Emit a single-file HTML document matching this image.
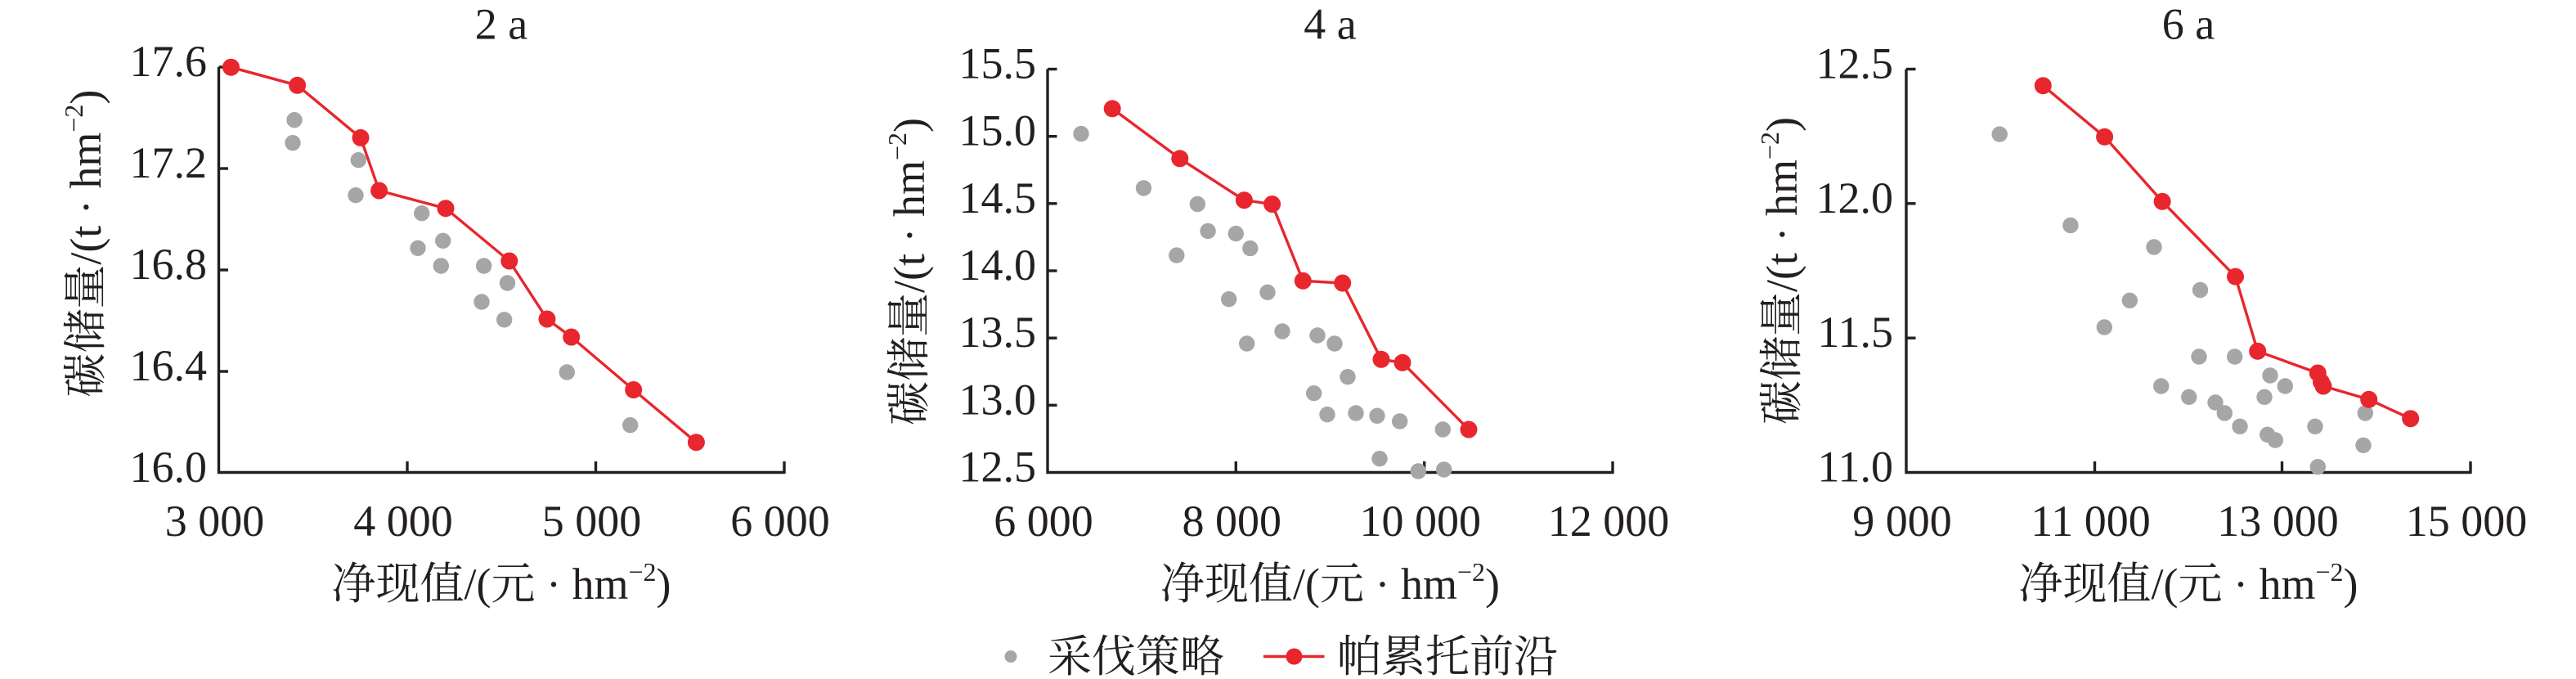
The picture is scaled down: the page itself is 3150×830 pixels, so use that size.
<!DOCTYPE html>
<html>
<head>
<meta charset="utf-8">
<style>
  html, body { margin: 0; padding: 0; background: #ffffff; }
  body { width: 3150px; height: 830px; overflow: hidden; }
  svg { display: block; }
  text { font-family: "Liberation Serif", "Noto Serif CJK SC", serif; fill: #231f20; }
</style>
</head>
<body>
<svg xmlns="http://www.w3.org/2000/svg" width="3150" height="830" viewBox="0 0 3150 830">
  <rect x="0" y="0" width="3150" height="830" fill="#ffffff"/>

  <!-- ================= Panel 1: 2 a ================= -->
  <g>
    <text x="613" y="47.5" font-size="54" text-anchor="middle">2 a</text>
    <path d="M267.5 82 L267.5 577.5 L959 577.5" fill="none" stroke="#231f20" stroke-width="3.4" stroke-linejoin="miter"/>
    <g stroke="#231f20" stroke-width="3.4">
      <line x1="267.5" y1="82" x2="279" y2="82"/>
      <line x1="267.5" y1="206" x2="279" y2="206"/>
      <line x1="267.5" y1="330" x2="279" y2="330"/>
      <line x1="267.5" y1="454" x2="279" y2="454"/>
      <line x1="498" y1="577.5" x2="498" y2="564"/>
      <line x1="728.5" y1="577.5" x2="728.5" y2="564"/>
      <line x1="959" y1="579" x2="959" y2="564"/>
    </g>
    <g font-size="54" text-anchor="end">
      <text x="253" y="93">17.6</text>
      <text x="253" y="217">17.2</text>
      <text x="253" y="341">16.8</text>
      <text x="253" y="465">16.4</text>
      <text x="253" y="589">16.0</text>
    </g>
    <g font-size="54" text-anchor="middle">
      <text x="262.5" y="655">3 000</text>
      <text x="493" y="655">4 000</text>
      <text x="723.5" y="655">5 000</text>
      <text x="954" y="655">6 000</text>
    </g>
    <text x="613" y="732" font-size="54" text-anchor="middle">净现值/(元 · hm<tspan font-size="32" dy="-22">−2</tspan><tspan dy="22">)</tspan></text>
    <text transform="translate(123,297.6) rotate(-90)" font-size="54" text-anchor="middle">碳储量/(t · hm<tspan font-size="32" dy="-22">−2</tspan><tspan dy="22">)</tspan></text>
    <g fill="#a6a6a6">
      <circle cx="360" cy="146.7" r="9.7"/>
      <circle cx="358" cy="174.7" r="9.7"/>
      <circle cx="438.3" cy="195.7" r="9.7"/>
      <circle cx="435" cy="238.7" r="9.7"/>
      <circle cx="515.7" cy="260.7" r="9.7"/>
      <circle cx="511" cy="303.3" r="9.7"/>
      <circle cx="541.7" cy="294.3" r="9.7"/>
      <circle cx="539.3" cy="325" r="9.7"/>
      <circle cx="591.7" cy="325" r="9.7"/>
      <circle cx="589" cy="369" r="9.7"/>
      <circle cx="620.5" cy="346" r="9.7"/>
      <circle cx="616.7" cy="390.8" r="9.7"/>
      <circle cx="693.3" cy="455" r="9.7"/>
      <circle cx="770.7" cy="519.7" r="9.7"/>
    </g>
    <polyline points="282.5,82.2 363.6,104.3 441,168.4 463.6,233 545,254.7 622.8,319 669,390 698.7,412 774.7,476.5 851.4,540.7" fill="none" stroke="#e8262d" stroke-width="3.4" stroke-linejoin="round"/>
    <g fill="#e8262d">
      <circle cx="282.5" cy="82.2" r="10.5"/>
      <circle cx="363.6" cy="104.3" r="10.5"/>
      <circle cx="441" cy="168.4" r="10.5"/>
      <circle cx="463.6" cy="233" r="10.5"/>
      <circle cx="545" cy="254.7" r="10.5"/>
      <circle cx="622.8" cy="319" r="10.5"/>
      <circle cx="669" cy="390" r="10.5"/>
      <circle cx="698.7" cy="412" r="10.5"/>
      <circle cx="774.7" cy="476.5" r="10.5"/>
      <circle cx="851.4" cy="540.7" r="10.5"/>
    </g>
  </g>

  <!-- ================= Panel 2: 4 a ================= -->
  <g>
    <text x="1626.5" y="47.5" font-size="54" text-anchor="middle">4 a</text>
    <path d="M1281 84.5 L1281 577.5 L1972 577.5" fill="none" stroke="#231f20" stroke-width="3.4" stroke-linejoin="miter"/>
    <g stroke="#231f20" stroke-width="3.4">
      <line x1="1281" y1="84.5" x2="1292.5" y2="84.5"/>
      <line x1="1281" y1="166.7" x2="1292.5" y2="166.7"/>
      <line x1="1281" y1="248.8" x2="1292.5" y2="248.8"/>
      <line x1="1281" y1="331" x2="1292.5" y2="331"/>
      <line x1="1281" y1="413.2" x2="1292.5" y2="413.2"/>
      <line x1="1281" y1="495.3" x2="1292.5" y2="495.3"/>
      <line x1="1511.3" y1="577.5" x2="1511.3" y2="564"/>
      <line x1="1741.7" y1="577.5" x2="1741.7" y2="564"/>
      <line x1="1972" y1="579" x2="1972" y2="564"/>
    </g>
    <g font-size="54" text-anchor="end">
      <text x="1267" y="95.5">15.5</text>
      <text x="1267" y="177.7">15.0</text>
      <text x="1267" y="259.8">14.5</text>
      <text x="1267" y="342">14.0</text>
      <text x="1267" y="424.2">13.5</text>
      <text x="1267" y="506.3">13.0</text>
      <text x="1267" y="588.5">12.5</text>
    </g>
    <g font-size="54" text-anchor="middle">
      <text x="1276" y="655">6 000</text>
      <text x="1506.3" y="655">8 000</text>
      <text x="1736.7" y="655">10 000</text>
      <text x="1967" y="655">12 000</text>
    </g>
    <text x="1626.5" y="732" font-size="54" text-anchor="middle">净现值/(元 · hm<tspan font-size="32" dy="-22">−2</tspan><tspan dy="22">)</tspan></text>
    <text transform="translate(1130,332) rotate(-90)" font-size="54" text-anchor="middle">碳储量/(t · hm<tspan font-size="32" dy="-22">−2</tspan><tspan dy="22">)</tspan></text>
    <g fill="#a6a6a6">
      <circle cx="1322" cy="163.6" r="9.7"/>
      <circle cx="1398.5" cy="229.9" r="9.7"/>
      <circle cx="1464.3" cy="249.5" r="9.7"/>
      <circle cx="1477.1" cy="282.4" r="9.7"/>
      <circle cx="1511.3" cy="285.6" r="9.7"/>
      <circle cx="1528.8" cy="303.6" r="9.7"/>
      <circle cx="1438.8" cy="312.1" r="9.7"/>
      <circle cx="1502.7" cy="365.7" r="9.7"/>
      <circle cx="1550" cy="357.3" r="9.7"/>
      <circle cx="1568" cy="405" r="9.7"/>
      <circle cx="1524.7" cy="420" r="9.7"/>
      <circle cx="1611" cy="410" r="9.7"/>
      <circle cx="1632" cy="420" r="9.7"/>
      <circle cx="1648" cy="460.7" r="9.7"/>
      <circle cx="1606.7" cy="480.7" r="9.7"/>
      <circle cx="1623" cy="506.7" r="9.7"/>
      <circle cx="1658" cy="505" r="9.7"/>
      <circle cx="1684" cy="508.3" r="9.7"/>
      <circle cx="1711.7" cy="515" r="9.7"/>
      <circle cx="1764.3" cy="525" r="9.7"/>
      <circle cx="1687" cy="560.7" r="9.7"/>
      <circle cx="1734.3" cy="576" r="9.7"/>
      <circle cx="1765.7" cy="574" r="9.7"/>
    </g>
    <polyline points="1360.2,132.8 1442.8,193.8 1521.4,244.7 1555.6,249.5 1593.3,343.3 1641.7,346 1689,439.3 1715,443.3 1796,525" fill="none" stroke="#e8262d" stroke-width="3.4" stroke-linejoin="round"/>
    <g fill="#e8262d">
      <circle cx="1360.2" cy="132.8" r="10.5"/>
      <circle cx="1442.8" cy="193.8" r="10.5"/>
      <circle cx="1521.4" cy="244.7" r="10.5"/>
      <circle cx="1555.6" cy="249.5" r="10.5"/>
      <circle cx="1593.3" cy="343.3" r="10.5"/>
      <circle cx="1641.7" cy="346" r="10.5"/>
      <circle cx="1689" cy="439.3" r="10.5"/>
      <circle cx="1715" cy="443.3" r="10.5"/>
      <circle cx="1796" cy="525" r="10.5"/>
    </g>
  </g>

  <!-- ================= Panel 3: 6 a ================= -->
  <g>
    <text x="2676" y="47.5" font-size="54" text-anchor="middle">6 a</text>
    <path d="M2331 84.5 L2331 577.5 L3021 577.5" fill="none" stroke="#231f20" stroke-width="3.4" stroke-linejoin="miter"/>
    <g stroke="#231f20" stroke-width="3.4">
      <line x1="2331" y1="84.5" x2="2342.5" y2="84.5"/>
      <line x1="2331" y1="248.8" x2="2342.5" y2="248.8"/>
      <line x1="2331" y1="413.2" x2="2342.5" y2="413.2"/>
      <line x1="2561.5" y1="577.5" x2="2561.5" y2="564"/>
      <line x1="2790.5" y1="577.5" x2="2790.5" y2="564"/>
      <line x1="3021" y1="579" x2="3021" y2="564"/>
    </g>
    <g font-size="54" text-anchor="end">
      <text x="2315" y="95.5">12.5</text>
      <text x="2315" y="259.8">12.0</text>
      <text x="2315" y="424.2">11.5</text>
      <text x="2315" y="588.5">11.0</text>
    </g>
    <g font-size="54" text-anchor="middle">
      <text x="2326" y="655">9 000</text>
      <text x="2556.5" y="655">11 000</text>
      <text x="2785.5" y="655">13 000</text>
      <text x="3016" y="655">15 000</text>
    </g>
    <text x="2676" y="732" font-size="54" text-anchor="middle">净现值/(元 · hm<tspan font-size="32" dy="-22">−2</tspan><tspan dy="22">)</tspan></text>
    <text transform="translate(2197,331) rotate(-90)" font-size="54" text-anchor="middle">碳储量/(t · hm<tspan font-size="32" dy="-22">−2</tspan><tspan dy="22">)</tspan></text>
    <g fill="#a6a6a6">
      <circle cx="2445.2" cy="164.1" r="9.7"/>
      <circle cx="2531.9" cy="275.5" r="9.7"/>
      <circle cx="2634" cy="302" r="9.7"/>
      <circle cx="2690.5" cy="354.5" r="9.7"/>
      <circle cx="2604.3" cy="367.3" r="9.7"/>
      <circle cx="2573.3" cy="400" r="9.7"/>
      <circle cx="2689" cy="436" r="9.7"/>
      <circle cx="2732.7" cy="436" r="9.7"/>
      <circle cx="2776" cy="459" r="9.7"/>
      <circle cx="2794.3" cy="472" r="9.7"/>
      <circle cx="2642.7" cy="472" r="9.7"/>
      <circle cx="2676.7" cy="485.3" r="9.7"/>
      <circle cx="2769" cy="485.3" r="9.7"/>
      <circle cx="2709" cy="492" r="9.7"/>
      <circle cx="2720.3" cy="505" r="9.7"/>
      <circle cx="2739" cy="521.3" r="9.7"/>
      <circle cx="2772.7" cy="531.3" r="9.7"/>
      <circle cx="2782.3" cy="538" r="9.7"/>
      <circle cx="2831" cy="521.3" r="9.7"/>
      <circle cx="2892.3" cy="505" r="9.7"/>
      <circle cx="2890" cy="544.3" r="9.7"/>
      <circle cx="2834.3" cy="570.7" r="9.7"/>
    </g>
    <polyline points="2498.3,104.7 2573.6,167.3 2644.1,246.3 2733.5,338.1 2760.7,429.3 2834.3,456 2838.5,467 2841,472 2896.7,488.3 2947.7,511.7" fill="none" stroke="#e8262d" stroke-width="3.4" stroke-linejoin="round"/>
    <g fill="#e8262d">
      <circle cx="2498.3" cy="104.7" r="10.5"/>
      <circle cx="2573.6" cy="167.3" r="10.5"/>
      <circle cx="2644.1" cy="246.3" r="10.5"/>
      <circle cx="2733.5" cy="338.1" r="10.5"/>
      <circle cx="2760.7" cy="429.3" r="10.5"/>
      <circle cx="2834.3" cy="456" r="10.5"/>
      <circle cx="2838.5" cy="467" r="10.5"/>
      <circle cx="2841" cy="472" r="10.5"/>
      <circle cx="2896.7" cy="488.3" r="10.5"/>
      <circle cx="2947.7" cy="511.7" r="10.5"/>
    </g>
  </g>

  <!-- ================= Legend ================= -->
  <g>
    <circle cx="1236" cy="802.5" r="7.5" fill="#a6a6a6"/>
    <text x="1281" y="821" font-size="54">采伐策略</text>
    <line x1="1545" y1="802.5" x2="1619.5" y2="802.5" stroke="#e8262d" stroke-width="3.4"/>
    <circle cx="1582.5" cy="802.5" r="10" fill="#e8262d"/>
    <text x="1635" y="821" font-size="54">帕累托前沿</text>
  </g>
</svg>
</body>
</html>
